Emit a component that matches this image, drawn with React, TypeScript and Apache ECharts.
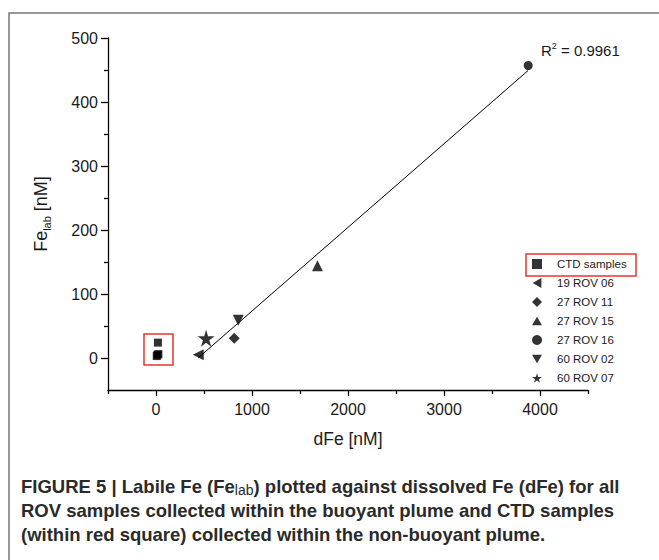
import React, { useEffect, useRef } from "react";
import * as echarts from "echarts";

const seriesNames = ["CTD samples", "19 ROV 06", "27 ROV 11", "27 ROV 15", "27 ROV 16", "60 ROV 02", "60 ROV 07"];
const ctdSamples = [[20, 24], [25, 6], [8, 3], [15, 5]];
const rov1906 = [[440, 5]];
const rov2711 = [[815, 31]];
const rov2715 = [[1682, 144]];
const rov2716 = [[3877, 457]];
const rov6002 = [[857, 59]];
const rov6007 = [[522, 31]];
const xMajorTicks = [0, 1000, 2000, 3000, 4000];
const xMinorTicks = [-500, 500, 1500, 2500, 3500, 4500];
const yMajorTicks = [0, 100, 200, 300, 400, 500];
const yMinorTicks = [50, 150, 250, 350, 450];
const r2Value = "0.9961";

const STAR = "path://M50,0 L61,35 L98,35 L68,57 L79,91 L50,70 L21,91 L32,57 L2,35 L39,35 Z";
const TRI_LEFT = "path://M0,50 L87,0 L87,100 Z";
const TRI_UP = "path://M50,0 L100,87 L0,87 Z";
const TRI_DOWN = "path://M0,0 L100,0 L50,87 Z";
const FONT = "'Liberation Sans', Arial, Helvetica, sans-serif";

function fitLine(points: number[][]) {
  const n = points.length;
  const mx = points.reduce((s, p) => s + p[0], 0) / n;
  const my = points.reduce((s, p) => s + p[1], 0) / n;
  let sxy = 0, sxx = 0;
  points.forEach((p) => { sxy += (p[0] - mx) * (p[1] - my); sxx += (p[0] - mx) ** 2; });
  const b = sxy / sxx;
  const a = my - b * mx;
  const xs = points.map((p) => p[0]);
  const x0 = Math.min(...xs), x1 = Math.max(...xs);
  return [[x0, a + b * x0], [x1, a + b * x1]];
}

export default function App() {
  const ref = useRef<HTMLDivElement>(null);
  useEffect(() => {
    if (!ref.current) return;
    const chart = echarts.init(ref.current, null, { renderer: "svg" });
    const rov = [...rov1906, ...rov2711, ...rov2715, ...rov2716, ...rov6002, ...rov6007];
    const fit = fitLine(rov);
    const mk = (name: string, data: number[][], symbol: string, size: number | number[]) => ({
      type: "scatter", name, data, symbol, symbolSize: size,
      itemStyle: { color: "#000" }, z: 3,
    });
    const tickLabel = { fontSize: 16, color: "#1a1a1a", fontFamily: FONT, formatter: (v: number) => String(v) };
    const axisLine = { show: true, onZero: false, lineStyle: { color: "#000", width: 1.3 } };
    const noLine = { show: false, onZero: false };
    const legendIcons = ["rect", TRI_LEFT, "diamond", TRI_UP, "circle", TRI_DOWN, STAR];
    chart.setOption({
      animation: false,
      textStyle: { fontFamily: FONT },
      grid: { left: 108, right: 71, top: 38, bottom: 170 },
      xAxis: [
        {
          type: "value", min: -500, max: 4500,
          name: "dFe [nM]", nameLocation: "middle", nameGap: 40,
          nameTextStyle: { fontSize: 17.5, color: "#1a1a1a", fontFamily: FONT },
          axisLine, splitLine: { show: false },
          axisTick: { show: true, length: 6, customValues: xMajorTicks, lineStyle: { color: "#000", width: 1.3 } },
          axisLabel: { ...tickLabel, margin: 11, customValues: xMajorTicks },
        },
        {
          type: "value", min: -500, max: 4500, position: "bottom",
          axisLine: noLine, splitLine: { show: false },
          axisTick: { show: true, length: 4, customValues: xMinorTicks, lineStyle: { color: "#000", width: 1.3 } },
          axisLabel: { show: false },
        },
      ],
      yAxis: [
        {
          type: "value", min: -50, max: 500,
          name: "{a|Fe}{s|lab}{a| [nM]}", nameLocation: "middle", nameGap: 56, nameRotate: 90,
          nameTextStyle: {
            rich: {
              a: { fontSize: 18, color: "#1a1a1a", fontFamily: FONT, lineHeight: 22, verticalAlign: "middle" },
              s: { fontSize: 11, color: "#1a1a1a", fontFamily: FONT, lineHeight: 12, verticalAlign: "bottom" },
            },
          },
          axisLine, splitLine: { show: false },
          axisTick: { show: true, length: 7, customValues: yMajorTicks, lineStyle: { color: "#000", width: 1.3 } },
          axisLabel: { ...tickLabel, margin: 10, customValues: yMajorTicks },
        },
        {
          type: "value", min: -50, max: 500, position: "left",
          axisLine: noLine, splitLine: { show: false },
          axisTick: { show: true, length: 4, customValues: yMinorTicks, lineStyle: { color: "#000", width: 1.3 } },
          axisLabel: { show: false },
        },
      ],
      legend: {
        orient: "vertical", left: 532, top: 258, padding: 0,
        itemWidth: 10, itemHeight: 10, itemGap: 7,
        data: seriesNames.map((n, i) => ({ name: n, icon: legendIcons[i], itemStyle: { color: "#000" } })),
        textStyle: { fontSize: 11.5, lineHeight: 12, color: "#1a1a1a", fontFamily: FONT, padding: [0, 0, 0, 10] },
      },
      series: [
        {
          type: "line", name: "fit", data: fit, symbol: "none", showSymbol: false,
          lineStyle: { color: "#000", width: 1 }, z: 2, silent: true,
        },
        mk(seriesNames[0], ctdSamples, "rect", 8),
        mk(seriesNames[1], rov1906, TRI_LEFT, 11),
        mk(seriesNames[2], rov2711, "diamond", [11, 11]),
        mk(seriesNames[3], rov2715, TRI_UP, 11),
        mk(seriesNames[4], rov2716, "circle", 9),
        mk(seriesNames[5], rov6002, TRI_DOWN, 11),
        mk(seriesNames[6], rov6007, STAR, 17),
      ],
      graphic: [
        { type: "rect", shape: { x: 9, y: 13, width: 700, height: 600 }, style: { fill: "none", stroke: "#777", lineWidth: 1.5 }, silent: true },
        { type: "rect", shape: { x: 144, y: 334, width: 29, height: 31 }, style: { fill: "none", stroke: "#e8342f", lineWidth: 1.5 } },
        { type: "rect", shape: { x: 526, y: 254, width: 110, height: 22 }, style: { fill: "none", stroke: "#e8342f", lineWidth: 1.5 } },
        {
          type: "text", x: 541, y: 50,
          style: {
            text: "{r|R}{p|2}{r| = " + r2Value + "}", verticalAlign: "middle",
            rich: {
              r: { fontSize: 15, fill: "#1a1a1a", fontFamily: FONT, lineHeight: 18, verticalAlign: "middle" },
              p: { fontSize: 9, fill: "#1a1a1a", fontFamily: FONT, lineHeight: 10, verticalAlign: "top" },
            },
          },
        },
        {
          type: "text", x: 21, y: 486,
          style: {
            text: "{b|FIGURE 5 | Labile Fe (Fe}{s|lab}{b|) plotted against dissolved Fe (dFe) for all}", verticalAlign: "middle",
            rich: {
              b: { fontSize: 18.5, fontWeight: "bold", fill: "#2a2a2a", fontFamily: FONT, lineHeight: 22, verticalAlign: "middle" },
              s: { fontSize: 14, fontWeight: "normal", fill: "#2a2a2a", fontFamily: FONT, lineHeight: 13, verticalAlign: "bottom" },
            },
          },
        },
        {
          type: "text", x: 21, y: 510,
          style: { text: "ROV samples collected within the buoyant plume and CTD samples", verticalAlign: "middle", fontSize: 18.5, fontWeight: "bold", fill: "#2a2a2a", fontFamily: FONT },
        },
        {
          type: "text", x: 21, y: 534,
          style: { text: "(within red square) collected within the non-buoyant plume.", verticalAlign: "middle", fontSize: 18.5, fontWeight: "bold", fill: "#2a2a2a", fontFamily: FONT },
        },
      ],
    });
    return () => chart.dispose();
  }, []);
  return <div ref={ref} style={{ position: "absolute", left: 0, top: 0, width: 659, height: 560, background: "#fff" }} />;
}
